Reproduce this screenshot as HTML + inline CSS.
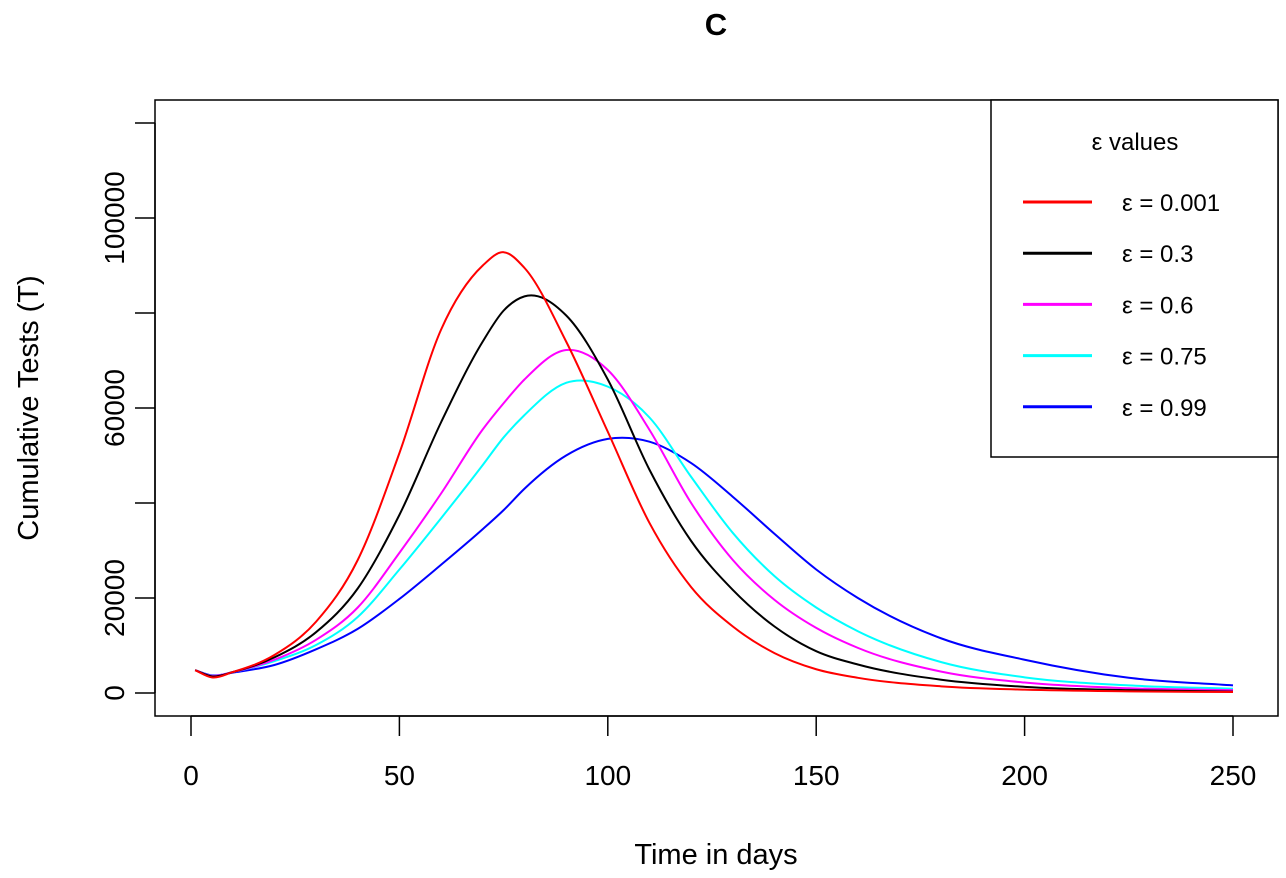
<!DOCTYPE html>
<html><head><meta charset="utf-8">
<style>
html,body{margin:0;padding:0;background:#fff;}
svg{display:block;font-family:"Liberation Sans",Arial,sans-serif;}
</style></head>
<body>
<svg id="chart" width="1286" height="878" viewBox="0 0 1286 878">
  <text x="716" y="35" font-size="31" font-weight="bold" text-anchor="middle">C</text>
  <rect x="155" y="100" width="1123" height="616" fill="none" stroke="#000" stroke-width="1.5"/>
  <g id="xaxis"></g>
  <g id="yaxis"></g>
  <text x="716" y="864" font-size="29" text-anchor="middle">Time in days</text>
  <text x="0" y="0" font-size="29" text-anchor="middle" transform="translate(38,408) rotate(-90)">Cumulative Tests (T)</text>
  <g id="series"></g>
  <g id="legend">
    <rect x="991" y="100" width="287" height="357" fill="#fff" stroke="#000" stroke-width="1.5"/>
    <text x="1135" y="150" font-size="24" text-anchor="middle">ε values</text>
  </g>
</svg>
<script>
const days = [1,5,10,20,30,40,50,60,70,75,80,90,100,110,120,130,140,150,160,180,200,225,250];
const sRed     = [4800,3300,4400,8000,15000,28000,50500,76500,90000,92800,89500,74000,55000,35800,22300,14000,8400,5000,3200,1400,700,350,200];
const sBlack   = [4800,3500,4400,7500,12800,22000,37500,57000,74000,80500,83500,79500,66000,47000,32000,21700,14000,8800,6000,2800,1300,600,300];
const sMagenta = [4800,3600,4400,7000,11200,18000,29500,42000,55500,61000,66000,72200,68000,55400,40000,28000,19600,13700,9500,4500,2200,1000,600];
const sCyan    = [4800,3600,4400,6700,10100,16000,26000,36800,48000,53800,58500,65300,64500,58000,45500,33700,24600,18000,13000,6500,3300,1600,900];
const sBlue    = [4800,3700,4300,5900,9200,13500,19800,27000,34500,38500,43000,50000,53500,52900,48400,41300,33500,26000,20000,11500,7000,3200,1600];
const seriesNames = ["ε = 0.001","ε = 0.3","ε = 0.6","ε = 0.75","ε = 0.99"];
const seriesColors = ["#ff0000","#000000","#ff00ff","#00ffff","#0000ff"];
const seriesKeys = ["eps-0-001","eps-0-3","eps-0-6","eps-0-75","eps-0-99"];
const allSeries = [sRed,sBlack,sMagenta,sCyan,sBlue];
const xTicks = [0,50,100,150,200,250];
const yTicks = [0,20000,40000,60000,80000,100000,120000];
const yLabels = ["0","20000","","60000","","100000",""];

const NS="http://www.w3.org/2000/svg";
function X(d){return 191 + d*(1233-191)/250;}
function Y(v){return 693 - v*(693-218)/100000;}
function mk(tag,attrs,parent){const e=document.createElementNS(NS,tag);for(const k in attrs)e.setAttribute(k,attrs[k]);parent.appendChild(e);return e;}

const xg=document.getElementById('xaxis');
mk('line',{x1:X(0),x2:X(250),y1:716,y2:716,stroke:'#000','stroke-width':1.5},xg);
xTicks.forEach(t=>{
  const l=mk('line',{x1:X(t),x2:X(t),y1:716,y2:736,stroke:'#000','stroke-width':1.5},xg);
  
  
  const tx=mk('text',{x:X(t),y:785,'font-size':28,'text-anchor':'middle'},xg);
  tx.textContent=t;
  
  
});
const yg=document.getElementById('yaxis');
mk('line',{x1:155,x2:155,y1:Y(0),y2:Y(120000),stroke:'#000','stroke-width':1.5},yg);
yTicks.forEach((t,i)=>{
  const l=mk('line',{x1:135,x2:155,y1:Y(t),y2:Y(t),stroke:'#000','stroke-width':1.5},yg);
  
  
  if(yLabels[i]){
    const tx=mk('text',{x:0,y:0,'font-size':28,'text-anchor':'middle',transform:`translate(124,${Y(t)}) rotate(-90)`},yg);
    tx.textContent=yLabels[i];
    
    
  }
});

function pathFor(vals){
  const xs=days.map(X), ys=vals.map(Y), n=xs.length;
  const m=new Array(n);
  for(let i=0;i<n;i++){
    if(i===0) m[i]=(ys[1]-ys[0])/(xs[1]-xs[0]);
    else if(i===n-1) m[i]=(ys[n-1]-ys[n-2])/(xs[n-1]-xs[n-2]);
    else{
      const d0=(ys[i]-ys[i-1])/(xs[i]-xs[i-1]), d1=(ys[i+1]-ys[i])/(xs[i+1]-xs[i]);
      const h0=xs[i]-xs[i-1], h1=xs[i+1]-xs[i];
      m[i]=(d0*h1+d1*h0)/(h0+h1);
    }
  }
  let s=`M${xs[0]},${ys[0]}`;
  for(let i=0;i<n-1;i++){
    const h=(xs[i+1]-xs[i])/3;
    s+=` C${xs[i]+h},${ys[i]+m[i]*h} ${xs[i+1]-h},${ys[i+1]-m[i+1]*h} ${xs[i+1]},${ys[i+1]}`;
  }
  return s;
}
const sg=document.getElementById('series');
const lg=document.getElementById('legend');
[4,3,2,1,0].forEach(i=>{
  const pth=mk('path',{d:pathFor(allSeries[i]),fill:'none',stroke:seriesColors[i],'stroke-width':2},sg);
  
  
});
seriesNames.forEach((n,i)=>{
  const y=202+i*51.2;
  const l=mk('line',{x1:1023,x2:1092,y1:y,y2:y,stroke:seriesColors[i],'stroke-width':3},lg);
  
  
  const t=mk('text',{x:1122,y:y+9,'font-size':24},lg);
  t.textContent=n;
  
  
});
</script>
</body></html>
